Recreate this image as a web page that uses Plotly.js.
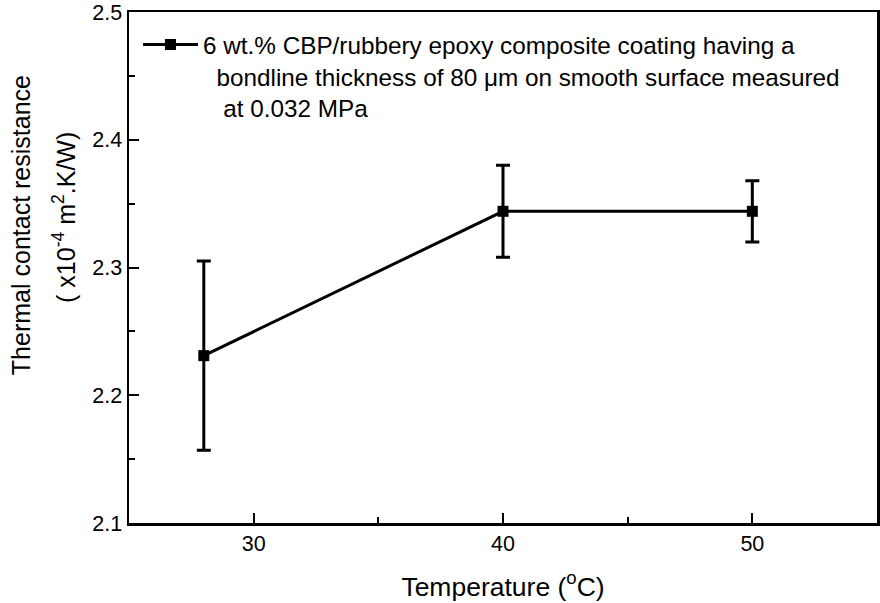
<!DOCTYPE html>
<html>
<head>
<meta charset="utf-8">
<script src="https://cdn.plot.ly/plotly-3.0.1.min.js"></script>
<style>html,body{margin:0;padding:0;background:#fff;}#chart{width:880px;height:603px;}</style>
</head>
<body>
<div id="chart"></div>
<script>
// Data
const temperature = [28, 40, 50];
const resistance = [2.231, 2.344, 2.344];
const resistanceErr = [0.074, 0.036, 0.024];
const seriesName = "6 wt.% CBP/rubbery epoxy composite coating having a<br>  bondline thickness of 80 \u03BCm on smooth surface measured<br>   at 0.032 MPa";
const xTicks = [30, 40, 50];
const yTicks = [2.1, 2.2, 2.3, 2.4, 2.5];
const yTitleLines = ["Thermal contact resistance", "( x10<sup>-4</sup> m<sup>2</sup>.K/W)"];
const xTitle = "Temperature (<sup>o</sup>C)";

const font = "Liberation Sans, Arial, sans-serif";

const trace = {
  x: temperature,
  y: resistance,
  name: seriesName,
  type: "scatter",
  mode: "lines+markers",
  line: {color: "#000", width: 3},
  marker: {symbol: "square", size: 11, color: "#000"},
  error_y: {type: "data", array: resistanceErr, visible: true, color: "#000", thickness: 3, width: 7},
  showlegend: true
};

const layout = {
  width: 880, height: 603,
  margin: {l: 129, r: 3, t: 12, b: 80},
  paper_bgcolor: "#fff", plot_bgcolor: "#fff",
  font: {family: font, color: "#000", size: 21},
  showlegend: true,
  legend: {x: 0.012, y: 0.98, xanchor: "left", yanchor: "top", bgcolor: "rgba(0,0,0,0)", valign: "top",
           font: {family: font, size: 24.3, color: "#000"}, itemwidth: 55, tracegroupgap: 0},
  xaxis: {
    range: [25, 55], tickvals: xTicks, ticktext: xTicks.map(String),
    ticks: "inside", ticklen: 10, tickwidth: 2, tickcolor: "#000",
    minor: {dtick: 5, ticks: "inside", ticklen: 6, tickwidth: 2, tickcolor: "#000", showgrid: false},
    showline: true, linewidth: 2.5, linecolor: "#000", mirror: true,
    showgrid: false, zeroline: false,
    tickfont: {family: font, size: 21.5},
    title: {text: xTitle, font: {family: font, size: 26.5}, standoff: 22}
  },
  yaxis: {
    range: [2.1, 2.5], tickvals: yTicks, ticktext: yTicks.map(v => v.toFixed(1)),
    ticks: "inside", ticklen: 10, tickwidth: 2, tickcolor: "#000",
    minor: {dtick: 0.05, ticks: "inside", ticklen: 6, tickwidth: 2, tickcolor: "#000", showgrid: false},
    showline: true, linewidth: 2.5, linecolor: "#000", mirror: true,
    showgrid: false, zeroline: false,
    tickfont: {family: font, size: 21.5}
  },
  annotations: [
    {text: yTitleLines[0], textangle: -90, xref: "paper", yref: "paper", x: -0.1443, y: 0.583,
     xanchor: "center", yanchor: "middle", showarrow: false, font: {family: font, size: 25}},
    {text: yTitleLines[1], textangle: -90, xref: "paper", yref: "paper", x: -0.0869, y: 0.599,
     xanchor: "center", yanchor: "middle", showarrow: false, font: {family: font, size: 25}}
  ]
};

Plotly.newPlot("chart", [trace], layout, {displayModeBar: false, staticPlot: true});
</script>
</body>
</html>
